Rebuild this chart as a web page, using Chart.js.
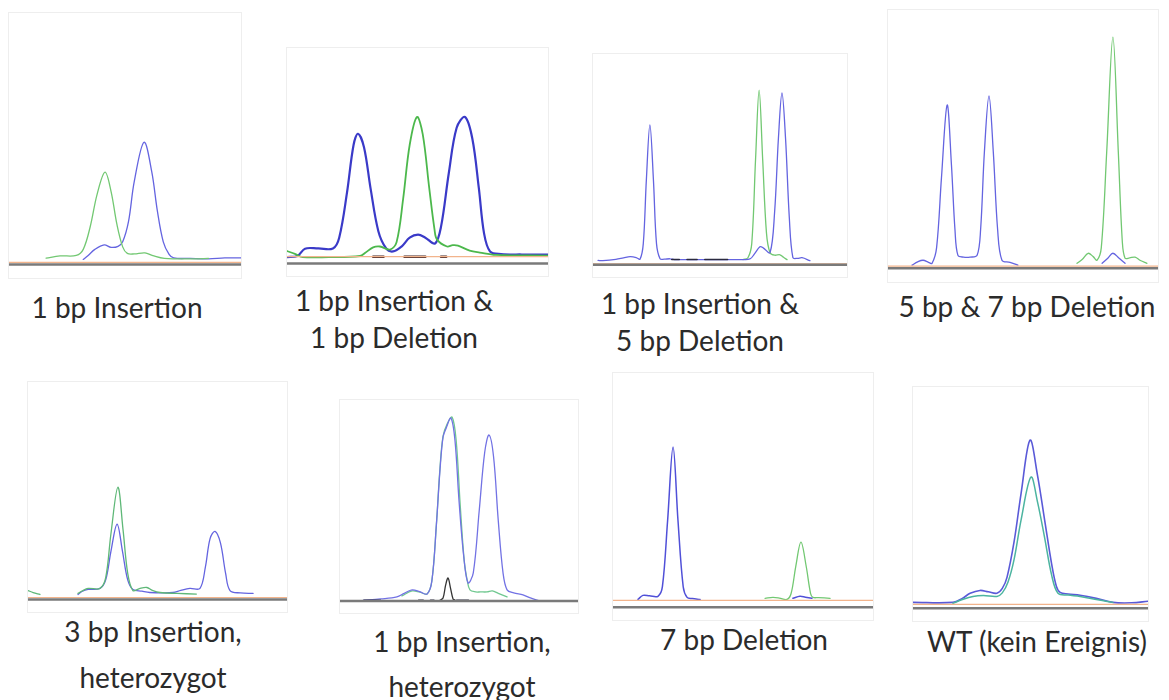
<!DOCTYPE html>
<html>
<head>
<meta charset="utf-8">
<script src="https://cdn.jsdelivr.net/npm/chart.js@4.4.1/dist/chart.umd.min.js"></script>
<style>
  html, body { margin: 0; padding: 0; background: #fff; }
  #stage { position: relative; width: 1169px; height: 700px; overflow: hidden; }
  .frame { position: absolute; border: 1px solid #eeeeee; box-sizing: border-box; }
  canvas { position: absolute; }
  .cap {
    position: absolute; width: 320px; margin-left: -160px; text-align: center;
    font-family: Lato, "Open Sans", sans-serif; font-size: 28px; color: #2b2b2b;
    line-height: 36px; white-space: nowrap;
  }
</style>
</head>
<body>
<div id="stage"></div>
<script>
// trace data: x = position in window (0-100), y = signal (0 = baseline, 100 = top of window)
const p1Green = [[16,2.5],[22,3.4],[29,3.6],[32,6],[35,15],[38,28],[41.4,36.7],[44,29],[46.5,16],[49,7],[51,4.4],[54,4.2],[58.6,4.6],[62,3.5],[67,2.4],[80,2.2],[86,2.4]];
const p1Blue = [[32,2],[34,3.5],[37,6],[41,7.8],[44,6.8],[47,7.2],[49,9],[51.5,17],[54,33],[58.2,48.6],[61.5,37],[64,21],[66.5,9],[69,4],[71,2.6],[78,2.4],[86,2.2],[93,2.6],[100,2.6]];

const p2Blue = [[0,3],[4,3.5],[6.9,6.9],[12,7],[17.6,7],[20,12],[23,33],[25.5,55],[27.2,60.2],[29.5,54],[32,35],[35,15],[38,7],[40.6,5.6],[44,8],[47,12],[50.2,13.4],[53,12],[56.7,9.3],[59,17],[62,42],[65,63],[68.2,68],[71,58],[73.5,35],[75.5,14],[77.8,5.6],[82,4.4],[90,4.2],[100,4.2]];
const p2Green = [[0,5.8],[3,4.5],[6,3],[16,3],[28,3.5],[30,5],[33,7.5],[35.6,7.9],[39.5,6.5],[42,10],[44.5,30],[47,55],[49.8,68],[52,60],[54.5,35],[56.5,16],[57.5,11.1],[61.3,7.9],[63.5,8.5],[65.5,8.3],[70,6],[73.9,5.1],[80,4],[100,3.7]];
const p2Marks = [[33,3.2],[37,3.2],[38,null],[45,3.2],[53,3.2],[54,null],[59,3.2],[61,3.2]];

const p3Blue = [[2,2],[3.9,1.9],[9,2.5],[12,3.2],[14.6,3.8],[17,3.4],[18.5,2.6],[19.8,10],[21,40],[22.4,66.4],[23.8,40],[25,10],[26.4,2.8],[28,2.6],[30.3,2.8],[32,2.4],[40,2.4],[55,2.4],[61.8,2.8],[63.5,5],[65.7,8.5],[67,8],[69.7,5.7],[71.5,25],[73,60],[74.4,81.5],[75.8,60],[77.3,22],[78.7,3.3],[80.5,3],[82.3,3.3],[85.4,1.9]];
const p3Green = [[59,2.4],[61,3.3],[62.5,10],[64,50],[65.4,82.9],[66.8,50],[68.3,15],[69.7,5.7],[71.5,4.5],[73.6,4.7],[75,3.5],[76.4,2.4]];
const p3Marks = [[31,2.4],[34,2.4],[35,null],[37,2.4],[41,2.4],[42,null],[44,2.4],[53,2.4]];

const p4Blue = [[8.9,1.2],[11,2.5],[13,3.1],[15,2.3],[16.3,1.9],[18,8],[19.8,35],[21.9,63.2],[23.5,40],[24.8,15],[25.9,5],[28,4.3],[30.4,4.3],[33,5],[34.3,15],[35.7,45],[37.4,66.7],[39,45],[40.6,15],[42.2,3.1],[45.2,2.3],[48.1,1.2],[60,null],[79.3,1.9],[81.5,4],[83.3,5.8],[85.5,4],[87.8,1.9]];
const p4Green = [[70,1.9],[72,3.5],[74.1,5.8],[76,4.5],[77.4,3.1],[79,8],[81,45],[83.3,89.5],[85.3,45],[86.8,10],[87.8,3.9],[89.5,4],[91.5,4.3],[93.5,3],[95.9,1.9]];

const p5Green = [[0,4.1],[2,3.2],[4.6,2.3],[10,null],[19.3,2.8],[21,4],[23.2,5.1],[27.8,5.1],[30,10],[32,30],[34.7,51.6],[36.7,32],[38.5,12],[40.5,4.1],[43,5],[45.9,5.5],[48,4.2],[51,3.2],[57.5,2.8],[65,2.5]];
const p5Blue = [[19.3,2.3],[21,3.8],[23.2,4.6],[27.8,5.1],[30,9],[32,22],[34.4,34.6],[36.5,22],[38.5,9],[40.5,4.6],[44,3.8],[47,3.2],[52,3],[56,3.2],[59,4.2],[62.5,5.1],[66.4,5.1],[68.5,15],[70.3,28],[72.2,31.3],[74.3,26],[76.3,12],[78,4.1],[82,3],[86.9,2.8]];

const p6Blue = [[9.7,0.3],[17,1],[23.9,2],[27,3.8],[30.3,5.5],[33.5,4.6],[36.6,3.5],[38.6,10],[40.5,38],[42,65],[43.3,81.6],[44.6,86],[46.6,91],[48.3,80],[50,50],[52,22],[53.8,9],[56,14],[58.5,45],[60.8,74],[62.6,82.6],[64.5,72],[66.5,40],[68.5,14],[70.2,5.5],[73,4],[76.9,3],[80,1.5],[83.2,0.3]];
const p6Green = [[26,2.5],[30.3,5],[33.5,4.4],[36.6,3.5],[38.6,10],[40.5,38],[42,66],[43.3,82],[45,88],[47.1,91.5],[48.8,80],[50.5,48],[52.2,20],[53.5,10],[54.6,5.5],[57,4.5],[59,4.5],[61.8,4.5],[64,5],[66.5,3.8],[70.2,2]];
const p6Black = [[42,0.3],[43.3,1.5],[44.4,8],[45.4,11.4],[46.5,6],[47.5,1],[48.3,0.5]];
const p6Marks = [[10,0.4],[17,0.4],[18,null],[33,0.4],[35,0.4],[36,null],[38,0.4],[39.5,0.4],[40,null],[49,0.4],[54,0.4]];

const p7Blue = [[9.6,0.4],[11.5,2.2],[14,2],[17.3,1.8],[19,6],[21,35],[23.1,67.4],[25,35],[27,6],[28.5,1.3],[30.5,0.8],[33.5,0.4],[50,null],[69.2,0.9],[71.9,1.8],[74,1.4],[76.5,0.9]];
const p7Green = [[58.5,0.9],[61.5,1.3],[64,1],[66.9,0.4],[68.5,3],[70.3,15],[72.3,25.6],[74.3,15],[76,3],[76.9,1.3],[79,1.2],[83.5,0.9]];

const p8Blue = [[0,2.7],[17,2.7],[21,4.5],[24.3,6.8],[28.5,8.1],[32,7.5],[35.7,6.8],[38,9],[40,14],[43,30],[46,52],[49.8,76],[53,60],[56,40],[59,20],[61,10],[62.6,7.2],[66,6.5],[71.1,5.9],[78,4.5],[85.1,2.7],[93,2.5],[100,3.2]];
const p8Green = [[17,2.3],[21,4],[25.5,5.4],[30,5.8],[35.7,5.4],[38,7],[40.4,11.8],[43,22],[46,40],[50.2,59.3],[53,48],[56,32],[59,15],[61.7,6.8],[66,6],[71.1,5.4],[78,4],[85.1,2.7]];

// baseline levels per panel
const grayLevel = [0, 0, 0, 0, 0, 0, -3, 0];
const orangeLevel = [0.8, 3.2, 0.4, 0.8, 0.9, 0.2, 0, 1.8];

const captions = [
  ['1 bp Insertion'],
  ['1 bp Insertion &', '1 bp Deletion'],
  ['1 bp Insertion &', '5 bp Deletion'],
  ['5 bp & 7 bp Deletion'],
  ['3 bp Insertion,', 'heterozygot'],
  ['1 bp Insertion,', 'heterozygot'],
  ['7 bp Deletion'],
  ['WT (kein Ereignis)']
];

// layout: [left, top, right, baseline] of each window
const boxes = [
  [9, 13, 241, 264], [287, 48, 548, 264], [593, 54, 847, 265], [888, 10, 1158, 268],
  [28, 382, 287, 599], [340, 400, 578, 601], [613, 373, 873, 600], [913, 387, 1148, 608]
];
// caption lines: [centre x, text baseline]
const capPos = [
  [[117, 318]],
  [[394, 311], [394, 348]],
  [[700, 314], [700, 351]],
  [[1027, 317]],
  [[153, 642], [153, 688]],
  [[462, 652], [462, 697]],
  [[744, 650]],
  [[1037, 652]]
];

const BLUE = '#6464e0';
const GREEN = '#72c872';
const DARK = '#2a2a40';

const panels = [
  [{d: p1Green, c: GREEN}, {d: p1Blue, c: BLUE}],
  [{d: p2Green, c: '#4cb84c', w: 1.8}, {d: p2Blue, c: '#3a3ac8', w: 2.2}, {d: p2Marks, c: '#402020', w: 2.5}],
  [{d: p3Marks, c: DARK, w: 1.5}, {d: p3Blue, c: BLUE}, {d: p3Green, c: GREEN}],
  [{d: p4Blue, c: BLUE}, {d: p4Green, c: GREEN}],
  [{d: p5Green, c: '#5fb878'}, {d: p5Blue, c: BLUE}],
  [{d: p6Marks, c: DARK, w: 1.5}, {d: p6Black, c: '#333333'}, {d: p6Blue, c: '#7272e4'}, {d: p6Green, c: '#70c890'}],
  [{d: p7Blue, c: '#5050d8', w: 1.5}, {d: p7Green, c: GREEN}],
  [{d: p8Green, c: '#4cb4a0', w: 1.5}, {d: p8Blue, c: '#5a5ad8', w: 1.6}]
];

function toPoints(pairs) {
  return pairs.map(p => ({x: p[0], y: p[1]}));
}

const stage = document.getElementById('stage');

panels.forEach((traces, i) => {
  const [left, top, right, base] = boxes[i];
  const yMin = grayLevel[i] - 3;
  const plotH = base - top;
  const h = Math.round(plotH * (100 - yMin) / 100);
  const w = right - left;

  const frame = document.createElement('div');
  frame.className = 'frame';
  frame.style.left = (left - 1) + 'px';
  frame.style.top = (top - 1) + 'px';
  frame.style.width = (w + 2) + 'px';
  frame.style.height = (h + 8) + 'px';
  stage.appendChild(frame);

  const canvas = document.createElement('canvas');
  canvas.width = w;
  canvas.height = h;
  canvas.style.left = left + 'px';
  canvas.style.top = top + 'px';
  stage.appendChild(canvas);

  const datasets = [
    {data: toPoints([[0, grayLevel[i]], [100, grayLevel[i]]]), borderColor: '#7a7a7a', borderWidth: 2.5, tension: 0},
    {data: toPoints([[0, orangeLevel[i]], [100, orangeLevel[i]]]), borderColor: '#f2b48c', borderWidth: 1.2, tension: 0}
  ];
  traces.forEach(t => {
    datasets.push({
      data: toPoints(t.d),
      borderColor: t.c,
      borderWidth: t.w || 1.3,
      tension: 0.35,
      spanGaps: false
    });
  });

  new Chart(canvas.getContext('2d'), {
    type: 'line',
    data: {datasets: datasets},
    options: {
      responsive: false,
      animation: false,
      events: [],
      layout: {padding: 0},
      elements: {point: {radius: 0}, line: {borderJoinStyle: 'round', borderCapStyle: 'round'}},
      plugins: {legend: {display: false}, tooltip: {enabled: false}},
      scales: {
        x: {type: 'linear', min: 0, max: 100, display: false},
        y: {min: yMin, max: 100, display: false}
      }
    }
  });

  // caption lines, baseline sits 29px below the line box top
  captions[i].forEach((line, k) => {
    const cap = document.createElement('div');
    cap.className = 'cap';
    cap.style.left = capPos[i][k][0] + 'px';
    cap.style.top = (capPos[i][k][1] - 29) + 'px';
    cap.textContent = line;
    stage.appendChild(cap);
  });
});
</script>
</body>
</html>
